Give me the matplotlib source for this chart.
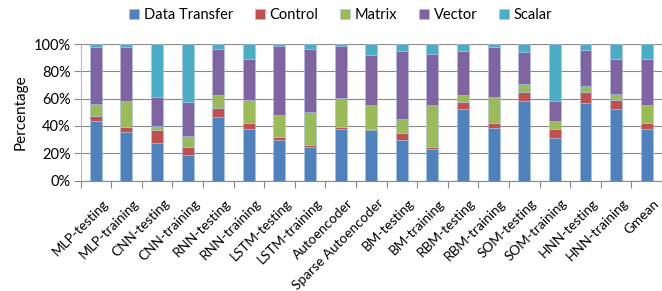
import numpy as np
import matplotlib.pyplot as plt
import matplotlib.transforms as mtransforms

# ------------------------------------------------------------
# data (percent of execution time per op class)
# ------------------------------------------------------------
workloads = ['MLP-testing', 'MLP-training', 'CNN-testing', 'CNN-training',
             'RNN-testing', 'RNN-training', 'LSTM-testing', 'LSTM-training',
             'Autoencoder', 'Sparse Autoencoder', 'BM-testing', 'BM-training',
             'RBM-testing', 'RBM-training', 'SOM-testing', 'SOM-training',
             'HNN-testing', 'HNN-training', 'Gmean']

data_transfer = [43.4, 35.5, 27.2, 18.4, 46.8, 37.7, 29.7, 24.3, 38.0, 36.8,
                 29.9, 23.3, 52.5, 38.7, 58.6, 30.9, 56.6, 52.2, 37.5]
control       = [4.1, 3.5, 9.8, 6.4, 6.1, 4.2, 2.4, 1.4, 1.5, 1.2,
                 4.9, 1.5, 5.3, 3.7, 5.9, 6.6, 8.3, 7.1, 4.7]
matrix        = [8.9, 19.6, 3.0, 7.6, 9.4, 17.2, 15.9, 24.5, 20.8, 17.1,
                 10.3, 30.8, 5.2, 18.6, 6.1, 6.1, 4.5, 4.2, 13.2]
vector        = [41.1, 38.9, 21.3, 25.0, 34.3, 29.9, 50.3, 46.1, 38.0, 37.1,
                 49.5, 36.8, 31.6, 36.8, 23.5, 15.0, 26.2, 25.2, 33.6]
scalar        = [2.5, 2.5, 38.7, 42.6, 3.4, 11.0, 1.7, 3.7, 1.7, 7.8,
                 5.4, 7.6, 5.4, 2.2, 5.9, 41.4, 4.4, 11.3, 11.0]

series = [('Data Transfer', data_transfer, '#4F81BD'),
          ('Control',       control,       '#C0504D'),
          ('Matrix',        matrix,        '#9BBB59'),
          ('Vector',        vector,        '#8064A2'),
          ('Scalar',        scalar,        '#4BACC6')]

plt.rcParams['font.family'] = ['Lato', 'DejaVu Sans']

fig = plt.figure(figsize=(6.62, 2.91), dpi=100)
ax = fig.add_axes([80.5 / 662, 1 - 180.5 / 291, 1 - 80.5 / 662, 136.5 / 291])

x = np.arange(len(workloads))
bottom = np.zeros(len(workloads))
for name, vals, col in series:
    vals = np.array(vals)
    ax.bar(x, vals, 0.39, bottom=bottom, color=col, label=name,
           edgecolor='#A9C4E4', linewidth=0.4, zorder=3)
    bottom += vals

ax.set_xlim(-0.5, 18.23)
ax.set_ylim(0, 100)
ax.set_yticks(np.arange(0, 101, 20))
ax.set_yticklabels([f'{v}%' for v in range(0, 101, 20)], fontsize=10.5)
ax.yaxis.grid(True, color='#888888', linewidth=0.8, zorder=0)
ax.tick_params(axis='y', length=5, color='#888888', width=0.8, pad=2)

# category labels under the bars, tick marks on the boundaries
ax.set_xticks(x)
ax.set_xticklabels(workloads, rotation=45, ha='right', rotation_mode='anchor',
                   fontsize=9.8)
ax.tick_params(axis='x', length=0, pad=12)
shift = mtransforms.ScaledTranslation(6 / 100, 0, fig.dpi_scale_trans)
for lbl in ax.get_xticklabels():
    lbl.set_transform(lbl.get_transform() + shift)
ax.set_xticks(np.arange(-0.5, len(workloads), 1), minor=True)
ax.tick_params(axis='x', which='minor', length=5, color='#888888', width=0.8)

for s in ['top', 'right']:
    ax.spines[s].set_visible(False)
ax.spines['left'].set_color('#BBBBBB')
ax.spines['bottom'].set_color('#888888')
ax.spines['bottom'].set_linewidth(0.8)

ax.set_ylabel('Percentage', fontsize=11, labelpad=4)

fig.legend(loc='center', bbox_to_anchor=(340.5 / 662, 1 - 15 / 291), ncol=5,
           frameon=False, fontsize=10.5, handlelength=0.7, handleheight=0.7,
           handletextpad=0.3, columnspacing=1.5)

plt.savefig('out.png', dpi=100)
plt.close()
